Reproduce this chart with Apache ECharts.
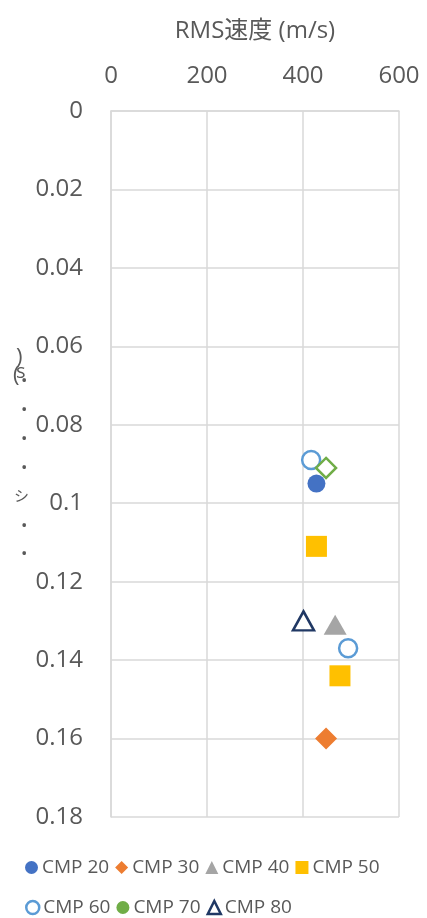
<!DOCTYPE html>
<html>
<head>
<meta charset="utf-8">
<script src="https://cdn.jsdelivr.net/npm/echarts@6/dist/echarts.min.js"></script>
<style>
  html, body { margin: 0; padding: 0; background: #ffffff; }
  #chart { width: 427px; height: 918px; }
</style>
</head>
<body>
<div id="chart"></div>
<script>
// RMS velocity (m/s) vs. time (s) picked on each CMP gather
const cmp20 = [[428, 0.095]];
const cmp30 = [[448, 0.160]];
const cmp40 = [[467, 0.131]];
const cmp50 = [[428, 0.111], [477, 0.144]];
const cmp60 = [[417, 0.089], [494, 0.137]];
const cmp70 = [[448, 0.091]];
const cmp80 = [[401, 0.130]];

const xTicks = [0, 200, 400, 600];
const yTicks = [0, 0.02, 0.04, 0.06, 0.08, 0.1, 0.12, 0.14, 0.16, 0.18];
const yTickLabels = ['0', '0.02', '0.04', '0.06', '0.08', '0.1', '0.12', '0.14', '0.16', '0.18'];

const FONT = "'Open Sans', 'Noto Sans CJK JP', sans-serif";
const TEXT = '#595959';
const GRID = '#D9D9D9';

const chart = echarts.init(document.getElementById('chart'), null, { renderer: 'canvas' });

function labelFor(v) {
  const i = yTicks.findIndex(t => Math.abs(t - v) < 1e-9);
  return i >= 0 ? yTickLabels[i] : '';
}

// vertical axis caption, stacked glyphs
const yCaption = [
  { t: ')', x: 21, y: 360, s: 22 },
  { t: 's', x: 21, y: 374, s: 20 },
  { t: '(', x: 18, y: 378, s: 22 },
  { t: '•', x: 26, y: 383, s: 17 },
  { t: '•', x: 26, y: 412, s: 17 },
  { t: '•', x: 26, y: 441, s: 17 },
  { t: '•', x: 26, y: 470, s: 17 },
  { t: 'シ', x: 19, y: 498, s: 15 },
  { t: '•', x: 26, y: 528, s: 17 },
  { t: '•', x: 26, y: 556, s: 17 }
];

const solid = c => ({ color: c, opacity: 1 });
const hollow = c => ({ color: '#ffffff', borderColor: c, borderWidth: 2.5, opacity: 1 });

const option = {
  animation: false,
  backgroundColor: '#ffffff',
  textStyle: { fontFamily: FONT, color: TEXT },
  grid: { left: 111, right: 28, top: 111, bottom: 101, containLabel: false },
  xAxis: {
    type: 'value',
    position: 'top',
    min: xTicks[0],
    max: xTicks[xTicks.length - 1],
    interval: 200,
    name: 'RMS速度 (m/s)',
    nameLocation: 'middle',
    nameGap: 68,
    nameTextStyle: { fontFamily: FONT, fontSize: 24, color: TEXT },
    axisLine: { show: true, lineStyle: { color: GRID, width: 1.5 } },
    axisTick: { show: false },
    axisLabel: { fontFamily: FONT, fontSize: 24, color: TEXT, margin: 23 },
    splitLine: { show: true, lineStyle: { color: GRID, width: 1.5 } }
  },
  yAxis: {
    type: 'value',
    inverse: true,
    min: yTicks[0],
    max: yTicks[yTicks.length - 1],
    interval: 0.02,
    axisLine: { show: true, lineStyle: { color: GRID, width: 1.5 } },
    axisTick: { show: false },
    axisLabel: { fontFamily: FONT, fontSize: 24, color: TEXT, margin: 28, formatter: labelFor },
    splitLine: { show: true, lineStyle: { color: GRID, width: 1.5 } }
  },
  legend: [
    {
      left: 20, top: 853, orient: 'horizontal',
      itemWidth: 13, itemHeight: 13, itemGap: 6,
      textStyle: { fontFamily: FONT, fontSize: 19, color: TEXT, padding: [0, 0, 0, -1] },
      data: [
        { name: 'CMP 20', icon: 'circle', itemStyle: solid('#4472C4') },
        { name: 'CMP 30', icon: 'diamond', itemStyle: solid('#ED7D31') },
        { name: 'CMP 40', icon: 'triangle', itemStyle: solid('#A5A5A5') },
        { name: 'CMP 50', icon: 'rect', itemStyle: solid('#FFC000') }
      ]
    },
    {
      left: 20, top: 893, orient: 'horizontal',
      itemWidth: 13, itemHeight: 13, itemGap: 6,
      textStyle: { fontFamily: FONT, fontSize: 19, color: TEXT, padding: [0, 0, 0, -1] },
      data: [
        { name: 'CMP 60', icon: 'circle', itemStyle: hollow('#5B9BD5') },
        { name: 'CMP 70', icon: 'circle', itemStyle: { color: '#70AD47', borderWidth: 0, opacity: 1 } },
        { name: 'CMP 80', icon: 'triangle', itemStyle: hollow('#203864') }
      ]
    }
  ],
  graphic: yCaption.map(c => ({
    type: 'text',
    left: c.x - 5, top: c.y - c.s * 0.6,
    style: { text: c.t, fontFamily: FONT, fontSize: c.s, fill: TEXT }
  })),
  series: [
    {
      name: 'CMP 20', type: 'scatter', data: cmp20,
      symbol: 'circle', symbolSize: 18,
      itemStyle: solid('#4472C4')
    },
    {
      name: 'CMP 30', type: 'scatter', data: cmp30,
      symbol: 'diamond', symbolSize: [22, 22],
      itemStyle: solid('#ED7D31')
    },
    {
      name: 'CMP 40', type: 'scatter', data: cmp40,
      symbol: 'triangle', symbolSize: [23, 20],
      itemStyle: solid('#A5A5A5')
    },
    {
      name: 'CMP 50', type: 'scatter', data: cmp50,
      symbol: 'rect', symbolSize: 21,
      itemStyle: solid('#FFC000')
    },
    {
      name: 'CMP 60', type: 'scatter', data: cmp60,
      symbol: 'circle', symbolSize: 18,
      itemStyle: hollow('#5B9BD5')
    },
    {
      name: 'CMP 70', type: 'scatter', data: cmp70,
      symbol: 'diamond', symbolSize: [20, 20],
      itemStyle: hollow('#70AD47')
    },
    {
      name: 'CMP 80', type: 'scatter', data: cmp80,
      symbol: 'triangle', symbolSize: [21, 19],
      itemStyle: hollow('#203864')
    }
  ]
};

chart.setOption(option);
</script>
</body>
</html>
